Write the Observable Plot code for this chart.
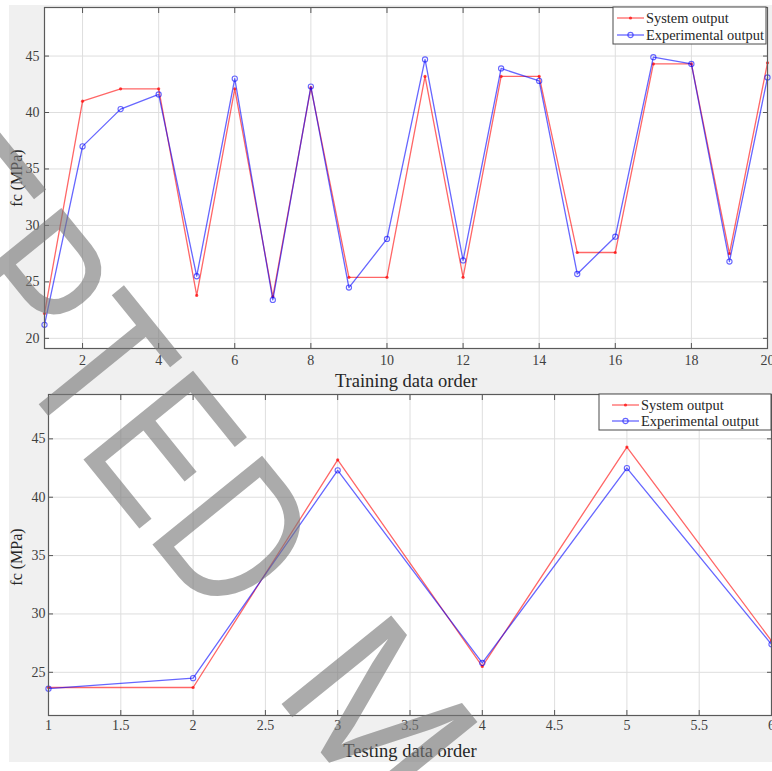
<!DOCTYPE html>
<html>
<head>
<meta charset="utf-8">
<script src="https://cdn.jsdelivr.net/npm/d3@7"></script>
<script src="https://cdn.jsdelivr.net/npm/@observablehq/plot@0.6"></script>
<style>
  html, body { margin: 0; padding: 0; background: #ffffff; }
  #page { position: relative; width: 772px; height: 771px; overflow: hidden; }
  #bg { position: absolute; left: 9px; top: 5px; width: 763px; height: 757px; background: #f0f0f0; }
  .panel { position: absolute; left: 0; }
  .panel svg { overflow: visible; }
  #wm { position: absolute; left: 0; top: 0; pointer-events: none; }
</style>
</head>
<body>
<div id="page">
  <div id="bg"></div>
  <div id="top" class="panel" style="top:0px"></div>
  <div id="bottom" class="panel" style="top:392px"></div>
  <svg id="wm" width="772" height="771"></svg>
</div>
<script>
// ---- Training data (top panel) ----
const trainOrder = [1,2,3,4,5,6,7,8,9,10,11,12,13,14,15,16,17,18,19,20];
const trainSystem = [22.2,41.0,42.1,42.1,23.8,42.1,23.7,42.2,25.4,25.4,43.2,25.4,43.2,43.2,27.6,27.6,44.3,44.3,27.5,44.4];
const trainExperimental = [21.2,37.0,40.3,41.6,25.5,43.0,23.4,42.3,24.5,28.8,44.7,26.9,43.9,42.8,25.7,29.0,44.9,44.3,26.8,43.1];
const trainXTicks = [2,4,6,8,10,12,14,16,18,20];
const trainYTicks = [20,25,30,35,40,45];

// ---- Testing data (bottom panel) ----
const testOrder = [1,2,3,4,5,6];
const testSystem = [23.7,23.7,43.2,25.5,44.3,27.7];
const testExperimental = [23.6,24.5,42.3,25.8,42.5,27.4];
const testXTicks = [1,1.5,2,2.5,3,3.5,4,4.5,5,5.5,6];
const testYTicks = [25,30,35,40,45];

const seriesNames = ["System output", "Experimental output"];
const yLabel = "fc (MPa)";
const watermarkLeft = "ACCEPTED";
const watermarkRight = "MANUSCRIPT";

const SERIF = "'Liberation Serif', 'Times New Roman', serif";
const RED = "#ff0000", BLUE = "#0000ff";

function panel(cfg) {
  const rows = cfg.x.map((x, i) => ({x, sys: cfg.sys[i], exp: cfg.exp[i]}));
  const fmt = d => String(d);
  const plot = Plot.plot({
    width: 772,
    height: cfg.height,
    marginLeft: cfg.ml, marginRight: cfg.mr, marginTop: cfg.mt, marginBottom: cfg.mb,
    style: {background: "transparent", fontFamily: SERIF, fontSize: "14px", color: "#404040", overflow: "visible"},
    x: {domain: cfg.xDomain},
    y: {domain: cfg.yDomain},
    marks: [
      Plot.frame({fill: "white", stroke: null}),
      Plot.gridX(cfg.xTicks, {stroke: "#dedede", strokeOpacity: 1}),
      Plot.gridY(cfg.yTicks, {stroke: "#dedede", strokeOpacity: 1}),
      Plot.line(rows, {x: "x", y: "sys", stroke: RED, strokeOpacity: 0.6, strokeWidth: 1.3}),
      Plot.dot(rows, {x: "x", y: "sys", r: 1.6, fill: RED, fillOpacity: 0.7, stroke: null}),
      Plot.line(rows, {x: "x", y: "exp", stroke: BLUE, strokeOpacity: 0.6, strokeWidth: 1.3}),
      Plot.dot(rows, {x: "x", y: "exp", r: 2.6, stroke: BLUE, strokeOpacity: 0.6, fill: "none", strokeWidth: 1.1}),
      Plot.axisX(cfg.xTicks, {anchor: "bottom", tickSize: 0, tickPadding: cfg.xPad, tickFormat: fmt, label: null, fill: "#404040"}),
      Plot.axisX(cfg.xTicks, {anchor: "bottom", tickSize: -5, tickFormat: () => "", label: null, stroke: "#555"}),
      Plot.axisX(cfg.xTicks, {anchor: "top", tickSize: -5, tickFormat: () => "", label: null, stroke: "#555"}),
      Plot.axisY(cfg.yTicks, {anchor: "left", tickSize: 0, tickPadding: cfg.yPad, tickFormat: fmt, label: null, fill: "#404040"}),
      Plot.axisY(cfg.yTicks, {anchor: "left", tickSize: -5, tickFormat: () => "", label: null, stroke: "#555"}),
      Plot.axisY(cfg.yTicks, {anchor: "right", tickSize: -5, tickFormat: () => "", label: null, stroke: "#555"}),
      Plot.frame({stroke: "#5a5a5a", strokeWidth: 1.2})
    ]
  });

  const svg = d3.select(plot);
  // axis titles
  svg.append("text")
    .attr("x", cfg.xLabelX).attr("y", cfg.xLabelY)
    .attr("text-anchor", "middle")
    .attr("font-family", SERIF).attr("font-size", 18.5).attr("fill", "#262626")
    .text(cfg.xLabel);
  svg.append("text")
    .attr("transform", `translate(${cfg.yLabelX},${cfg.yLabelY}) rotate(-90)`)
    .attr("text-anchor", "middle")
    .attr("font-family", SERIF).attr("font-size", 16).attr("fill", "#262626")
    .text(yLabel);

  // legend (inside the axes, top-right)
  const L = cfg.legend;
  const g = svg.append("g");
  g.append("rect").attr("x", L.x).attr("y", L.y).attr("width", L.w).attr("height", L.h)
    .attr("fill", "white").attr("stroke", "#4a4a4a").attr("stroke-width", 1);
  seriesNames.forEach((name, i) => {
    const cy = L.y + L.rowY[i];
    const col = i === 0 ? RED : BLUE;
    g.append("line").attr("x1", L.lx1).attr("x2", L.lx2).attr("y1", cy).attr("y2", cy)
      .attr("stroke", col).attr("stroke-opacity", 0.6).attr("stroke-width", 1.3);
    if (i === 0) {
      g.append("circle").attr("cx", (L.lx1 + L.lx2) / 2).attr("cy", cy).attr("r", 1.6)
        .attr("fill", col).attr("fill-opacity", 0.7);
    } else {
      g.append("circle").attr("cx", (L.lx1 + L.lx2) / 2).attr("cy", cy).attr("r", 2.6)
        .attr("fill", "none").attr("stroke", col).attr("stroke-opacity", 0.6).attr("stroke-width", 1.1);
    }
    g.append("text").attr("x", L.tx).attr("y", cy + 5)
      .attr("text-anchor", "start")
      .attr("font-family", SERIF).attr("font-size", 14.4).attr("fill", "#262626")
      .text(name);
  });
  return plot;
}

document.getElementById("top").appendChild(panel({
  x: trainOrder, sys: trainSystem, exp: trainExperimental,
  xDomain: [1, 20], yDomain: [19.1, 49.3],
  xTicks: trainXTicks, yTicks: trainYTicks,
  height: 392, ml: 44, mr: 5, mt: 7, mb: 44,
  xPad: 7, yPad: 5,
  xLabel: "Training data order", xLabelX: 406, xLabelY: 387,
  yLabelX: 22, yLabelY: 178,
  legend: {x: 613, y: 7, w: 153, h: 37, rowY: [11, 28], lx1: 617, lx2: 644, tx: 646}
}));

document.getElementById("bottom").appendChild(panel({
  x: testOrder, sys: testSystem, exp: testExperimental,
  xDomain: [1, 6], yDomain: [21.3, 48.8],
  xTicks: testXTicks, yTicks: testYTicks,
  height: 379, ml: 48, mr: 1, mt: 2, mb: 56,
  xPad: 5, yPad: 3,
  xLabel: "Testing data order", xLabelX: 410, xLabelY: 365,
  yLabelX: 22, yLabelY: 165,
  legend: {x: 599, y: 2, w: 172, h: 36, rowY: [11, 27], lx1: 612, lx2: 639, tx: 641}
}));

// watermark overlay (origin at the baseline-left of the "D")
const wm = d3.select("#wm").append("g").attr("transform", "translate(152,544) rotate(51)")
  .attr("font-family", "'Liberation Sans', Arial, sans-serif").attr("font-size", 205)
  .attr("fill", "#777777").attr("fill-opacity", 0.62);
wm.append("g").attr("transform", "scale(0.8,1)")
  .append("text").attr("x", 132).attr("y", 0).attr("text-anchor", "end").text(watermarkLeft);
wm.append("text").attr("x", 189).attr("y", 0).attr("text-anchor", "start").text(watermarkRight);
</script>
</body>
</html>
